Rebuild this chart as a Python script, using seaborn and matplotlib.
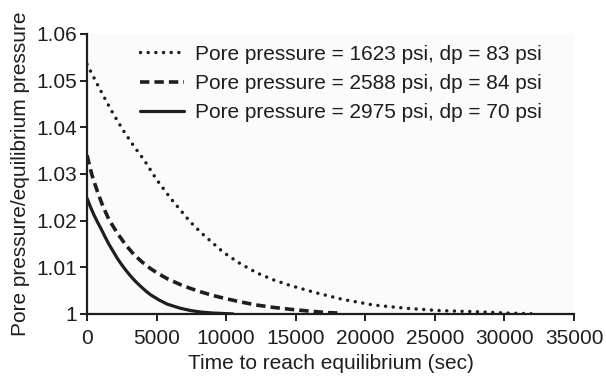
import matplotlib
matplotlib.use("Agg")
import matplotlib.pyplot as plt
import seaborn as sns
import pandas as pd

# Normalised pore pressure decay for three test stations
labels = [
    "Pore pressure = 1623 psi, dp = 83 psi",
    "Pore pressure = 2588 psi, dp = 84 psi",
    "Pore pressure = 2975 psi, dp = 70 psi",
]

time_1623 = [0, 600, 1200, 1900, 2650, 3400, 4100, 5000, 6000, 7400, 8200,
             9800, 11000, 12200, 13400, 14600, 16500, 18400, 20600, 23000,
             25400, 27800, 30100, 32400]
ratio_1623 = [1.0535, 1.0500, 1.0466, 1.0428, 1.0391, 1.0358, 1.0330, 1.0288,
              1.0248, 1.0198, 1.0174, 1.0132, 1.0108, 1.0088, 1.0073, 1.0061,
              1.0045, 1.0031, 1.0019, 1.0012, 1.0007, 1.0005, 1.0002, 1.0000]

time_2588 = [0, 350, 750, 1150, 1580, 2180, 2780, 3380, 3970, 4570, 5200,
             5800, 6700, 7400, 8200, 9000, 9800, 11000, 12200, 13400, 14600,
             16000, 17200, 18000]
ratio_2588 = [1.0340, 1.0298, 1.0262, 1.0230, 1.0202, 1.0173, 1.0148, 1.0127,
              1.0111, 1.0097, 1.0085, 1.0075, 1.0063, 1.0055, 1.0047, 1.0040,
              1.0034, 1.0026, 1.0019, 1.0014, 1.0010, 1.0006, 1.0003, 1.0002]

time_2975 = [0, 250, 500, 750, 1000, 1300, 1580, 1900, 2180, 2480, 2780, 3080,
             3380, 3680, 3970, 4270, 4570, 5170, 5770, 6300, 6730, 7500, 8200,
             9000, 9800, 10500]
ratio_2975 = [1.0248, 1.0229, 1.0212, 1.0197, 1.0183, 1.0165, 1.0149, 1.0133,
              1.0119, 1.0106, 1.0094, 1.0083, 1.0073, 1.0064, 1.0056, 1.0048,
              1.0041, 1.0030, 1.0021, 1.0016, 1.0012, 1.0007, 1.0004, 1.0002,
              1.0001, 1.0000]

x_ticks = [0, 5000, 10000, 15000, 20000, 25000, 30000, 35000]
y_ticks = [1.00, 1.01, 1.02, 1.03, 1.04, 1.05, 1.06]
y_tick_labels = ["1", "1.01", "1.02", "1.03", "1.04", "1.05", "1.06"]

df = pd.concat([
    pd.DataFrame({"t": time_1623, "r": ratio_1623, "s": labels[0]}),
    pd.DataFrame({"t": time_2588, "r": ratio_2588, "s": labels[1]}),
    pd.DataFrame({"t": time_2975, "r": ratio_2975, "s": labels[2]}),
])

sns.set_theme(style="ticks")
plt.rcParams["font.family"] = ["Liberation Sans", "DejaVu Sans"]
ink = "#1e1e1e"

fig = plt.figure(figsize=(6.06, 3.81), dpi=100)
ax = fig.add_axes([0.1436, 0.176, 0.8036, 0.735])
ax.set_facecolor("#fbfbfb")

styles = [
    dict(lw=2.5, ls=(0, (0.01, 2.2)), dash_capstyle="round"),
    dict(lw=2.6, ls=(0, (2.6, 1.4))),
    dict(lw=2.3, ls="-"),
]
for lab, st in zip(labels, styles):
    sub = df[df["s"] == lab]
    sns.lineplot(data=sub, x="t", y="r", ax=ax, color=ink, label=lab,
                 estimator=None, sort=False, **st)

ax.set_xlim(0, 35000)
ax.set_ylim(1.0, 1.06)
ax.set_xticks(x_ticks)
ax.set_xticklabels([str(v) for v in x_ticks])
ax.set_yticks(y_ticks)
ax.set_yticklabels(y_tick_labels)
ax.tick_params(axis="both", labelsize=15, colors=ink, length=5, width=1.4,
               direction="out", pad=2)
ax.tick_params(axis="x", pad=6)

for side in ("top", "right"):
    ax.spines[side].set_visible(False)
for side in ("left", "bottom"):
    ax.spines[side].set_color(ink)
    ax.spines[side].set_linewidth(1.6)

ax.set_xlabel("Time to reach equilibrium (sec)", fontsize=15, color=ink,
              labelpad=4)
ax.set_ylabel("Pore pressure/equilibrium pressure", fontsize=15, color=ink,
              labelpad=5)

leg = ax.legend(loc="upper left", bbox_to_anchor=(0.109, 0.962), frameon=False,
                fontsize=15, handlelength=2.1, handletextpad=0.55,
                labelspacing=0.5, borderpad=0, borderaxespad=0)
for t in leg.get_texts():
    t.set_color(ink)

fig.savefig("out.png", dpi=100)
